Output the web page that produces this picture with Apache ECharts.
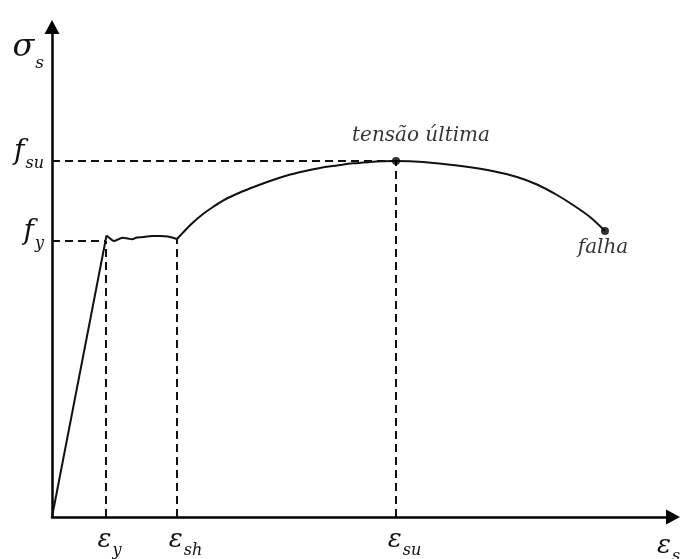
<!DOCTYPE html>
<html>
<head>
<meta charset="utf-8">
<script src="https://cdn.jsdelivr.net/npm/echarts@6/dist/echarts.min.js"></script>
<style>
  html, body { margin: 0; padding: 0; background: #fff; }
  #chart { width: 683px; height: 559px; }
</style>
</head>
<body>
<div id="chart"></div>
<script>
// Stress-strain diagram of reinforcing steel (schematic units)

// elastic branch
const elasticStrain = [0, 54.5];
const elasticStress = [0, 281.5];

// yield plateau
const plateauStrain = [54.5, 57.5, 62, 66, 71, 76, 80, 85, 92, 100, 108, 116, 125];
const plateauStress = [281.5, 279, 276, 277.5, 279.3, 278.5, 277.7, 279.5, 280, 281, 281, 280.5, 278];

// strain hardening up to rupture
const hardeningStrain = [125, 133, 141, 151, 161, 173, 188, 203, 218, 235, 251, 268, 285, 301, 318, 331, 344,
                         371, 405, 438, 465, 485, 505, 521, 538, 553];
const hardeningStress = [278, 286.5, 294.5, 303, 310, 317.5, 324.5, 330.5, 336, 341.5, 345.5, 349, 351.5, 353.7, 355, 355.7, 356,
                         355, 351.5, 346.5, 340, 332.5, 322, 312, 300, 286];

// characteristic strains and stresses
const strainMarks = [54, 125, 344];
const strainSubs = ['y', 'sh', 'su'];
const strainMarkTops = [276, 278, 356];
const stressMarks = [276, 356];
const stressSubs = ['y', 'su'];
const stressMarkEnds = [53, 344];

// annotated points
const pointNames = ['tensão última', 'falha'];
const pointStrain = [344, 553];
const pointStress = [356, 286];

const INK = '#111';
const FONT = 'DejaVu Serif';
const SUB_SIZE = 16;

// width of a subscript, used to keep the main symbol centred on its tick
const measureCtx = document.createElement('canvas').getContext('2d');
function subWidth(t) {
  measureCtx.font = 'italic ' + SUB_SIZE + 'px "' + FONT + '"';
  return Math.max(1, Math.round(measureCtx.measureText(t).width) - 2);
}

const rich = {
  m: { fontFamily: FONT, fontStyle: 'italic', fontSize: 26, color: INK, padding: [0, 0, 6, 0], verticalAlign: 'bottom' },
  f: { fontFamily: FONT, fontStyle: 'italic', fontSize: 28, color: INK, padding: [0, 0, 6, 0], verticalAlign: 'bottom' },
  s: { fontFamily: FONT, fontStyle: 'italic', fontSize: SUB_SIZE, color: INK, padding: [0, 0, 0, 1], verticalAlign: 'bottom' },
  g: { fontFamily: FONT, fontStyle: 'italic', fontSize: 32, color: INK, padding: [0, 0, 8, 0], verticalAlign: 'bottom' },
  gs: { fontFamily: FONT, fontStyle: 'italic', fontSize: 17, color: INK, padding: [0, 0, 0, 1], verticalAlign: 'bottom' }
};
strainSubs.forEach((t, i) => {
  rich['p' + i] = { width: subWidth(t), fontSize: SUB_SIZE, color: 'rgba(0,0,0,0)', verticalAlign: 'bottom' };
});

const zip = (a, b) => a.map((v, i) => [v, b[i]]);

const dashed = { color: INK, width: 2, type: [8, 5] };

const guideSeries = [];
strainMarks.forEach((x, i) => {
  guideSeries.push({
    type: 'line', data: [[x, 0], [x, strainMarkTops[i]]], symbol: 'none',
    lineStyle: dashed, silent: true, z: 1
  });
});
stressMarks.forEach((y, i) => {
  guideSeries.push({
    type: 'line', data: [[0, y], [stressMarkEnds[i], y]], symbol: 'none',
    lineStyle: dashed, silent: true, z: 1
  });
});

const chart = echarts.init(document.getElementById('chart'), null, { renderer: 'canvas' });

chart.setOption({
  animation: false,
  backgroundColor: '#fff',
  grid: { left: 52, right: 10, top: 27, bottom: 42, outerBoundsMode: 'none' },
  xAxis: {
    type: 'value', min: 0, max: 621,
    splitLine: { show: false },
    axisTick: { show: false },
    axisLine: {
      show: true, onZero: false,
      symbol: ['none', 'triangle'], symbolSize: [15, 14],
      lineStyle: { color: '#000', width: 2.5 }
    },
    axisLabel: {
      customValues: strainMarks,
      margin: 10,
      formatter: v => {
        const i = strainMarks.indexOf(v);
        return '{p' + i + '| }{m|ε}{s|' + strainSubs[i] + '}';
      },
      rich: rich
    },
    name: '{m|ε}{s|s}',
    nameLocation: 'end',
    nameGap: -16,
    nameTextStyle: { rich: rich, align: 'left', verticalAlign: 'top', padding: [16, 0, 0, 0] }
  },
  yAxis: {
    type: 'value', min: 0, max: 490,
    splitLine: { show: false },
    axisTick: { show: false },
    axisLine: {
      show: true, onZero: false,
      symbol: ['none', 'triangle'], symbolSize: [15, 14],
      lineStyle: { color: '#000', width: 2.5 }
    },
    axisLabel: {
      customValues: stressMarks,
      margin: 8,
      padding: [0, 0, 12, 0],
      formatter: v => '{f|f}{s|' + stressSubs[stressMarks.indexOf(v)] + '}',
      rich: rich
    },
    name: '{g|σ}{gs|s}',
    nameLocation: 'end',
    nameGap: -45,
    nameTextStyle: { rich: rich, align: 'right', verticalAlign: 'bottom', padding: [0, 8, 0, 0] }
  },
  series: guideSeries.concat([
    {
      type: 'line', data: zip(elasticStrain, elasticStress), symbol: 'none',
      lineStyle: { color: INK, width: 2 }, z: 3
    },
    {
      type: 'line', data: zip(plateauStrain, plateauStress), symbol: 'none', smooth: 0.4,
      lineStyle: { color: INK, width: 2 }, z: 3
    },
    {
      type: 'line', data: zip(hardeningStrain, hardeningStress), symbol: 'none', smooth: 0.3,
      lineStyle: { color: INK, width: 2 }, z: 3
    },
    {
      type: 'scatter', symbolSize: 8, itemStyle: { color: '#000' }, z: 4,
      data: pointNames.map((n, i) => ({
        name: n, value: [pointStrain[i], pointStress[i]],
        label: i === 0
          ? { show: true, position: 'top', distance: 11, offset: [25, 0] }
          : { show: true, position: 'bottom', distance: 3, offset: [-2, 0] }
      })),
      label: {
        formatter: p => p.name,
        fontFamily: FONT, fontStyle: 'italic', fontSize: 20, color: '#000'
      }
    }
  ])
});
</script>
</body>
</html>
